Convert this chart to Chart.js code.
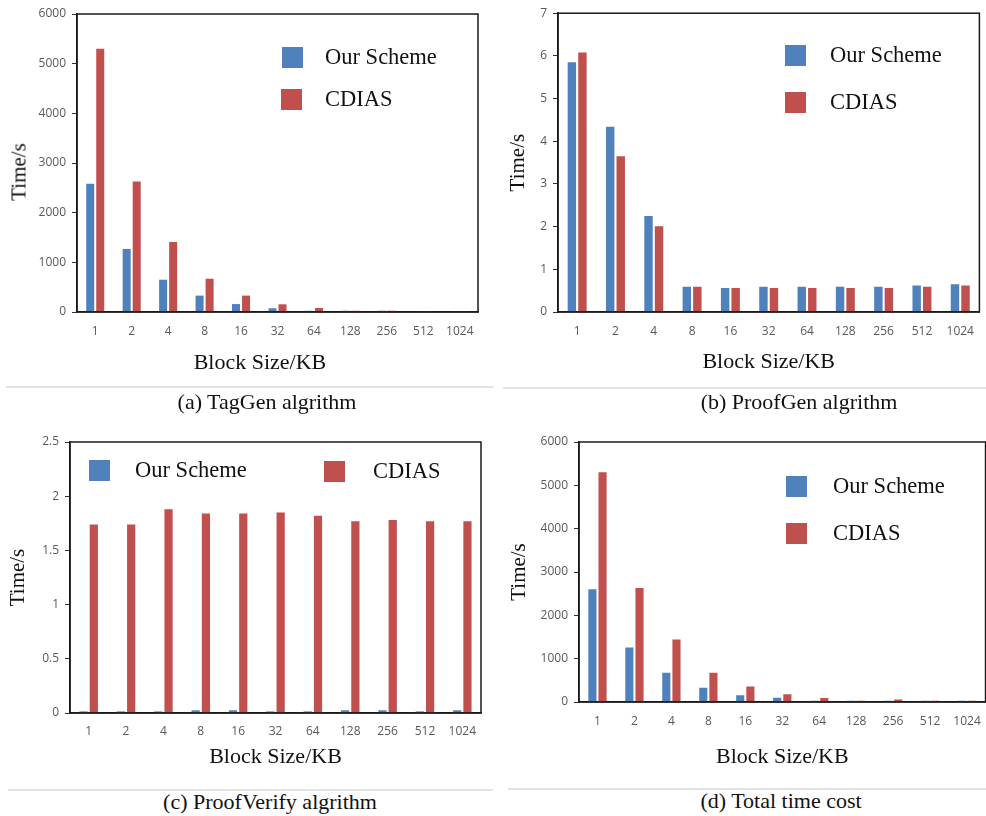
<!DOCTYPE html>
<html>
<head>
<meta charset="utf-8">
<script src="https://cdn.jsdelivr.net/npm/chart.js@4.4.0/dist/chart.umd.min.js"></script>
<style>
  html, body { margin:0; padding:0; background:#fff; overflow:hidden; }
  body { width:986px; height:816px; position:relative; }
  canvas { position:absolute; }
  .sep { position:absolute; height:2px; background:#e3e3e3; }
  .cap { position:absolute; font-family:"Liberation Serif","Times New Roman",serif; font-size:22px; color:#111; transform:translate(-50%,-50%); white-space:nowrap; }
  .ytl { position:absolute; font-family:"Liberation Serif","Times New Roman",serif; font-size:21px; color:#111; transform:translate(-50%,-50%) rotate(-90deg); white-space:nowrap; }
</style>
</head>
<body>
<canvas id="cA" width="493" height="380" style="left:0;top:0"></canvas>
<canvas id="cB" width="493" height="380" style="left:493px;top:0"></canvas>
<canvas id="cC" width="493" height="370" style="left:0;top:410px"></canvas>
<canvas id="cD" width="500" height="370" style="left:493px;top:410px"></canvas>

<!-- panel (a) axis titles sit off-centre in the original -->
<div class="cap" style="left:260px;top:362px">Block Size/KB</div>
<div class="ytl" style="left:19px;top:172px">Time/s</div>

<div class="sep" style="left:6px;top:386px;width:487px"></div>
<div class="sep" style="left:503px;top:387px;width:483px"></div>
<div class="sep" style="left:8px;top:789px;width:485px"></div>
<div class="sep" style="left:508px;top:788px;width:478px"></div>

<div class="cap" style="left:267px;top:402px">(a) TagGen algrithm</div>
<div class="cap" style="left:799px;top:402px">(b) ProofGen algrithm</div>
<div class="cap" style="left:270px;top:802px">(c) ProofVerify algrithm</div>
<div class="cap" style="left:781px;top:801px">(d) Total time cost</div>

<script>
// ---- data ----
const blockSizes = ['1','2','4','8','16','32','64','128','256','512','1024'];
const seriesNames = ['Our Scheme', 'CDIAS'];

const tagGenOurs   = [2580, 1270, 650, 330, 160, 75, 25, 25, 25, 5, 3];
const tagGenCdias  = [5300, 2630, 1410, 670, 330, 155, 80, 25, 25, 20, 3];

const proofGenOurs  = [5.85, 4.34, 2.25, 0.59, 0.56, 0.59, 0.59, 0.59, 0.59, 0.62, 0.65];
const proofGenCdias = [6.08, 3.65, 2.01, 0.59, 0.56, 0.56, 0.56, 0.56, 0.56, 0.59, 0.62];

const verifyOurs  = [0.015, 0.015, 0.015, 0.025, 0.025, 0.015, 0.015, 0.025, 0.025, 0.015, 0.025];
const verifyCdias = [1.74, 1.74, 1.88, 1.84, 1.84, 1.85, 1.82, 1.77, 1.78, 1.77, 1.77];

const totalOurs  = [2600, 1260, 676, 330, 155, 100, 30, 30, 30, 30, 30];
const totalCdias = [5300, 2630, 1440, 676, 355, 180, 90, 30, 60, 30, 30];

const BLUE = '#4F81BD', RED = '#C0504D';
const SERIF = '"Liberation Serif","Times New Roman",serif';

// box around the plot area
const framePlugin = {
  id: 'frame',
  afterDatasetsDraw(chart){
    const {ctx, chartArea:a} = chart;
    ctx.save();
    ctx.strokeStyle = '#1a1a1a';
    ctx.lineWidth = 1.5;
    ctx.strokeRect(a.left, a.top, a.right-a.left, a.bottom-a.top);
    ctx.restore();
  }
};

// legend drawn inside the plot, positions given per chart
const insideLegend = {
  id: 'insideLegend',
  afterDraw(chart, args, opts){
    if(!opts.items) return;
    const ctx = chart.ctx;
    ctx.save();
    chart.data.datasets.forEach((ds,i)=>{
      const it = opts.items[i];
      ctx.fillStyle = ds.backgroundColor;
      ctx.fillRect(it.bx, it.by, 21, 21);
      ctx.fillStyle = '#111';
      ctx.font = `22.5px ${SERIF}`;
      ctx.textBaseline = 'middle';
      ctx.textAlign = 'left';
      ctx.fillText(ds.label, it.tx, it.by + 11);
    });
    ctx.restore();
  }
};

function panel(id, c){
  return new Chart(document.getElementById(id), {
    type: 'bar',
    data: {
      labels: blockSizes,
      datasets: [
        { label: seriesNames[0], data: c.ours,  backgroundColor: BLUE },
        { label: seriesNames[1], data: c.cdias, backgroundColor: RED }
      ]
    },
    options: {
      responsive: false,
      animation: false,
      categoryPercentage: 0.55,
      barPercentage: 0.8,
      layout: { padding: c.pad },
      plugins: {
        legend: { display: false },
        tooltip: { enabled: false },
        insideLegend: { items: c.legend }
      },
      scales: {
        x: {
          grid: { display: false, drawTicks: false },
          border: { display: true, color: '#1a1a1a', width: 1.5 },
          ticks: { color: '#595959', padding: c.xTickPad, font: { family: '"Open Sans"', size: 12 }, maxRotation: 0, autoSkip: false },
          title: { display: c.titles !== false, text: 'Block Size/KB', color: '#111', font: { family: SERIF, size: 22 }, padding: { top: 0, bottom: c.xTitlePad } },
          afterFit: s => { s.height = c.xHeight; }
        },
        y: {
          min: 0, max: c.max,
          grid: { display: true, drawOnChartArea: false, drawTicks: true, tickLength: 5, color: '#333' },
          border: { display: true, color: '#1a1a1a', width: 1.5 },
          ticks: { stepSize: c.step, color: '#595959', padding: 6, font: { family: '"Open Sans"', size: 12 }, callback: v => String(v) },
          title: { display: c.titles !== false, text: 'Time/s', color: '#111', font: { family: SERIF, size: 21 }, padding: { top: c.yTitlePad, bottom: 0 } },
          afterFit: s => { s.width = c.yWidth; }
        }
      }
    },
    plugins: [framePlugin, insideLegend]
  });
}

panel('cA', {
  ours: tagGenOurs, cdias: tagGenCdias, max: 6000, step: 1000,
  pad: { top: 14, right: 15, left: 0, bottom: 0 }, yWidth: 77, xHeight: 68,
  xTickPad: 12, xTitlePad: 5, yTitlePad: 6, titles: false,
  legend: [ { bx: 282, by: 47, tx: 325 }, { bx: 281, by: 89, tx: 325 } ]
});

panel('cB', {
  ours: proofGenOurs, cdias: proofGenCdias, max: 7, step: 1,
  pad: { top: 13, right: 0.5, left: 0, bottom: 0 }, yWidth: 65, xHeight: 68,
  xTickPad: 12, xTitlePad: 5, yTitlePad: 13,
  legend: [ { bx: 292, by: 45, tx: 337 }, { bx: 292, by: 92, tx: 337 } ]
});

panel('cC', {
  ours: verifyOurs, cdias: verifyCdias, max: 2.5, step: 0.5,
  pad: { top: 32, right: 12, left: 0, bottom: 0 }, yWidth: 70, xHeight: 67,
  xTickPad: 11.5, xTitlePad: 10, yTitlePad: 6,
  legend: [ { bx: 89, by: 50, tx: 135 }, { bx: 324, by: 51, tx: 373 } ]
});

panel('cD', {
  ours: totalOurs, cdias: totalCdias, max: 6000, step: 1000,
  pad: { top: 32, right: 4.7, left: 0, bottom: 0 }, yWidth: 86, xHeight: 78,
  xTickPad: 12, xTitlePad: 10, yTitlePad: 14,
  legend: [ { bx: 293, by: 66, tx: 340 }, { bx: 293, by: 113, tx: 340 } ]
});
</script>
</body>
</html>
